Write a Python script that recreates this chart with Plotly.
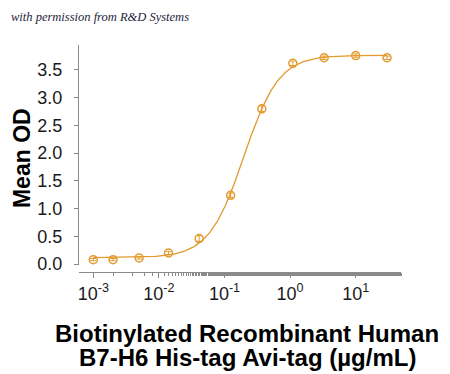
import numpy as np
import plotly.graph_objects as go

# ---- data ----
conc = [0.001, 0.002, 0.005, 0.014, 0.041, 0.124, 0.37, 1.1, 3.3, 10, 30]
mean_od = [0.08, 0.08, 0.11, 0.20, 0.46, 1.24, 2.80, 3.62, 3.72, 3.76, 3.72]
od_err = [0.02, 0.02, 0.02, 0.03, 0.05, 0.04, 0.05, 0.04, 0.03, 0.03, 0.03]
y_ticks = [0.0, 0.5, 1.0, 1.5, 2.0, 2.5, 3.0, 3.5]
x_ticks = [0.001, 0.01, 0.1, 1, 10]
x_ticktext = ["10<sup>-3</sup>", "10<sup>-2</sup>", "10<sup>-1</sup>", "10<sup>0</sup>", "10<sup>1</sup>"]
x_title_lines = ["Biotinylated Recombinant Human", "B7-H6 His-tag Avi-tag (µg/mL)"]
y_title = "Mean OD"
watermark = "with permission from R&D Systems"

# ---- 4PL fit of the points (grid over EC50/Hill, linear LSQ for bottom/top) ----
x = np.array(conc, dtype=float)
y = np.array(mean_od, dtype=float)
lx = np.log10(x)
best = None
for lec in np.arange(-2.0, 0.5, 0.005):
    hills = np.arange(0.5, 3.0, 0.01)
    s = 1.0 / (1.0 + 10 ** ((lec - lx[None, :]) * hills[:, None]))  # (H, N)
    for i, h in enumerate(hills):
        A = np.vstack([1 - s[i], s[i]]).T
        coef, *_ = np.linalg.lstsq(A, y, rcond=None)
        r = np.sum((A @ coef - y) ** 2)
        if best is None or r < best[0]:
            best = (r, lec, h, coef[0], coef[1])
_, lec, hill, bottom, top = best
xc = np.logspace(lx.min(), lx.max(), 300)
yc = bottom + (top - bottom) / (1 + 10 ** ((lec - np.log10(xc)) * hill))

color = "#E39A2F"
font_fam = "Liberation Sans, Arial, sans-serif"

fig = go.Figure()
fig.add_trace(go.Scatter(x=xc, y=yc, mode="lines",
                         line=dict(color=color, width=1.3), hoverinfo="skip"))
fig.add_trace(go.Scatter(x=conc, y=mean_od, mode="markers",
                         marker=dict(symbol="circle-open", size=8, color=color,
                                     line=dict(width=1.5, color=color)),
                         error_y=dict(type="data", array=od_err, color=color,
                                      thickness=1, width=3)))

fig.update_layout(
    width=450, height=374,
    margin=dict(l=79, r=49, t=45, b=102),
    paper_bgcolor="white", plot_bgcolor="white",
    showlegend=False,
    font=dict(family=font_fam, color="#1a1a1a"),
    xaxis=dict(type="log", range=[-3.218, 1.69], anchor="free", position=0,
               showline=True, linecolor="#8a8a8a", linewidth=1,
               ticks="outside", ticklen=5, tickcolor="#8a8a8a",
               tickvals=x_ticks, ticktext=x_ticktext,
               tickfont=dict(size=18, family=font_fam, color="#1a1a1a"),
               minor=dict(ticks="outside", ticklen=3, tickcolor="#8a8a8a", showgrid=False),
               showgrid=False, zeroline=False),
    yaxis=dict(domain=[0.03, 1], range=[-0.02, 3.95],
               showline=True, linecolor="#8a8a8a", linewidth=1,
               ticks="outside", ticklen=4, tickcolor="#8a8a8a",
               tickvals=y_ticks, tickformat=".1f",
               tickfont=dict(size=18, family=font_fam, color="#1a1a1a"),
               ticklabelstandoff=8,
               showgrid=False, zeroline=False),
    annotations=[
        dict(text="<b>%s</b>" % y_title, xref="paper", yref="paper",
             x=-0.177, y=0.502, textangle=-90, showarrow=False,
             xanchor="center", yanchor="middle",
             font=dict(size=23, family=font_fam, color="black")),
        dict(text="<b>%s</b>" % x_title_lines[0], xref="paper", yref="paper",
             x=0.522, y=-0.269, showarrow=False, xanchor="center", yanchor="middle",
             font=dict(size=24, family=font_fam, color="black")),
        dict(text="<b>%s</b>" % x_title_lines[1], xref="paper", yref="paper",
             x=0.522, y=-0.378, showarrow=False, xanchor="center", yanchor="middle",
             font=dict(size=24, family=font_fam, color="black")),
        dict(text="<i>%s</i>" % watermark, xref="paper", yref="paper",
             x=(9 - 79) / 322, y=(272 - 17) / 227, showarrow=False,
             xanchor="left", yanchor="middle",
             font=dict(size=12.5, family="Liberation Serif, serif", color="#1d1d3a")),
    ],
)

fig.write_html("out.html", config={"displayModeBar": False},
               post_script="document.body.style.margin='0';")
